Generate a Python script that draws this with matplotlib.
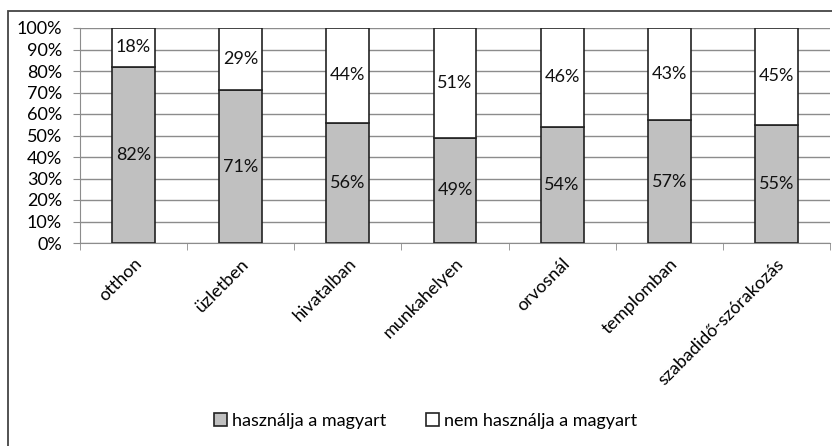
import matplotlib.pyplot as plt
import numpy as np
from matplotlib.patches import Rectangle

plt.rcParams['font.family'] = ['Lato', 'DejaVu Sans']

# Language use by location (percent)
categories = ['otthon', 'üzletben', 'hivatalban', 'munkahelyen', 'orvosnál',
              'templomban', 'szabadidő-szórakozás']
uses_hu = [82, 71, 56, 49, 54, 57, 55]
not_hu = [18, 29, 44, 51, 46, 43, 45]
series_names = ['használja a magyart', 'nem használja a magyart']

fs = 13

fig = plt.figure(figsize=(8.32, 4.46), dpi=100)
ax = fig.add_axes([80 / 832, 1 - 243 / 446, 750 / 832, 215 / 446])

x = np.arange(len(categories))
b1 = ax.bar(x, uses_hu, width=0.4, color='#c0c0c0', edgecolor='#222222',
            linewidth=1.2, label=series_names[0], zorder=3)
b2 = ax.bar(x, not_hu, width=0.4, bottom=uses_hu, color='white',
            edgecolor='#222222', linewidth=1.2, label=series_names[1], zorder=3)

# value labels in the middle of each segment
for i in range(len(categories)):
    ax.text(x[i], uses_hu[i] / 2, f'{uses_hu[i]}%', ha='center', va='center',
            fontsize=fs, color='#111111', zorder=4)
    ax.text(x[i], uses_hu[i] + not_hu[i] / 2, f'{not_hu[i]}%', ha='center',
            va='center', fontsize=fs, color='#111111', zorder=4)

ax.set_xlim(-0.5, len(categories) - 0.5)
ax.set_ylim(0, 100)
ax.set_yticks(np.arange(0, 101, 10))
ax.set_yticklabels([f'{v}%' for v in range(0, 101, 10)], fontsize=fs)
ax.yaxis.grid(True, color='#8c8c8c', linewidth=1, zorder=0)

ax.set_xticks(x)
ax.set_xticklabels(categories, rotation=45, ha='right', rotation_mode='anchor',
                   fontsize=fs)
ax.tick_params(axis='x', length=0, pad=9)
ax.set_xticks(np.arange(-0.5, len(categories)), minor=True)
ax.tick_params(axis='x', which='minor', length=5, color='#8c8c8c', direction='out')
ax.tick_params(axis='y', length=5, color='#8c8c8c', pad=8)

for s in ['top', 'right']:
    ax.spines[s].set_visible(False)
ax.spines['left'].set_color('#8c8c8c')
ax.spines['bottom'].set_color('#8c8c8c')

# outer chart frame
fig.patches.append(Rectangle((8 / 832, -0.1), 1.2, 1 - 11 / 446 + 0.1,
                             transform=fig.transFigure, fill=False,
                             edgecolor='#444444', linewidth=1.3))

fig.legend(handles=[b1, b2], labels=series_names, loc='center',
           bbox_to_anchor=(426 / 832, 1 - 421 / 446), ncol=2, frameon=False,
           fontsize=fs, handlelength=0.7, handleheight=0.7, handletextpad=0.3,
           columnspacing=2.2)

fig.savefig('out.png', dpi=100)
